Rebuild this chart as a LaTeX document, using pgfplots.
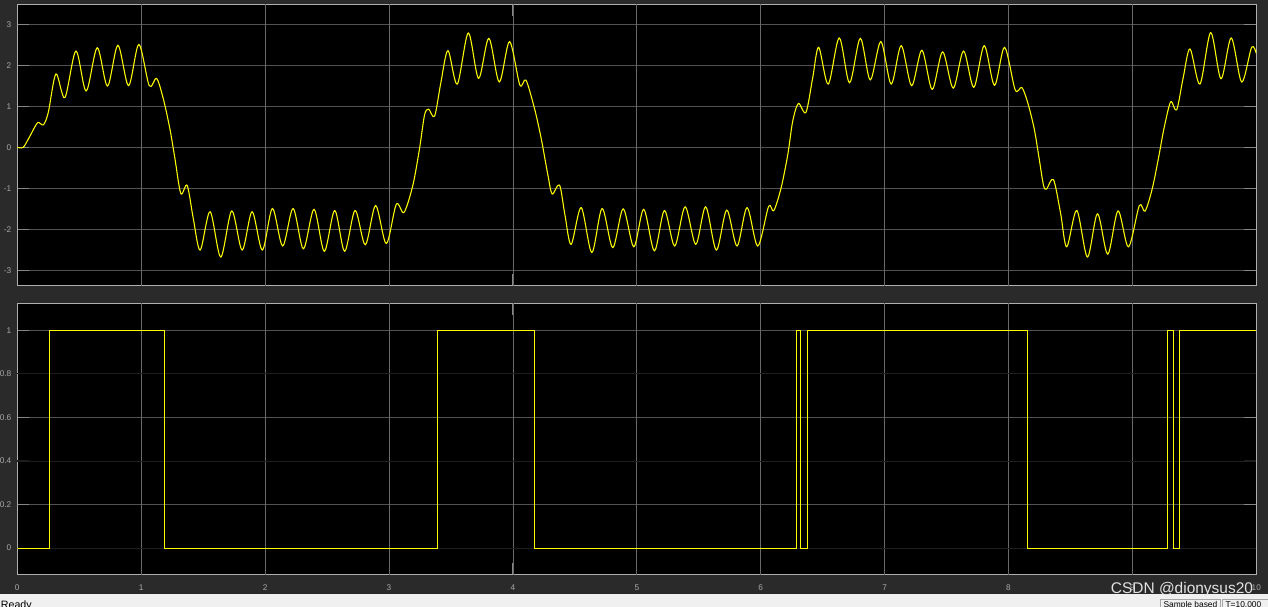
\documentclass[border=0pt]{standalone}
\usepackage{fontspec}
\setmainfont{Liberation Sans}
\usepackage{pgfplots}
\pgfplotsset{compat=1.18}
\definecolor{figbg}{RGB}{42,42,42}
\definecolor{hgridc}{RGB}{82,82,82}
\definecolor{vgridc}{RGB}{105,105,105}
\definecolor{darkgridc}{RGB}{30,30,30}
\definecolor{tickc}{RGB}{135,135,135}
\definecolor{borderc}{RGB}{175,175,175}
\definecolor{labc}{RGB}{168,168,168}
\definecolor{sigc}{RGB}{255,255,0}
\definecolor{statusbg}{RGB}{240,240,240}
\pgfplotsset{
  scopeax/.style={
    scale only axis, width=929.25pt,
    xmin=0, xmax=10,
    axis background/.style={fill=black},
    axis line style={draw=borderc, line width=0.6pt},
    ymajorgrids=true, xmajorgrids=false,
    major grid style={hgridc, line width=0.6pt},
    tick style={tickc, line width=0.7pt},
    major tick length=9pt, tick align=inside,
    xtick={0,...,10},
    extra x ticks={1,...,9},
    extra x tick labels={},
    extra x tick style={grid=major, major tick length=0pt, major grid style={vgridc, line width=0.6pt}},
    tick label style={font=\fontsize{6.2}{7}\selectfont, text=labc},
    xticklabel style={yshift=-3.9pt},
    yticklabel style={xshift=-1pt},
    /pgf/number format/assume math mode=true,
  }
}
\begin{document}
\begin{tikzpicture}
\useasboundingbox (0,0) rectangle (951pt,455.25pt);
\fill[figbg] (0,9.5pt) rectangle (951pt,455.25pt);
\fill[statusbg] (0,0) rectangle (951pt,9.5pt);

\begin{axis}[scopeax, at={(12.975pt,452.25pt)}, anchor=north west,
  height=211.275pt, ymin=-3.376, ymax=3.495, ytick={-3,...,3},
  xticklabels={}]
\addplot[sigc, line width=0.8pt, smooth, tension=0.5, line join=round] coordinates {
(0,0) (0.048,0) (0.10,0.26) (0.164,0.60) (0.210,0.545) (0.25,0.85)
(0.312,1.79) (0.384,1.21) (0.473,2.35) (0.556,1.37) (0.645,2.43)
(0.728,1.49) (0.812,2.49) (0.898,1.50) (0.981,2.51) (1.065,1.50)
(1.124,1.68) (1.177,1.20) (1.231,0.46) (1.272,-0.27) (1.320,-1.13)
(1.371,-0.93) (1.42,-1.73) (1.476,-2.51) (1.556,-1.57) (1.642,-2.68)
(1.731,-1.55) (1.815,-2.51) (1.895,-1.57) (1.978,-2.51) (2.059,-1.49)
(2.142,-2.41) (2.226,-1.49) (2.309,-2.48) (2.395,-1.51) (2.478,-2.54)
(2.562,-1.54) (2.642,-2.54) (2.726,-1.54) (2.809,-2.38) (2.892,-1.42)
(2.978,-2.35) (3.059,-1.39) (3.121,-1.59) (3.193,-0.92) (3.247,-0.02)
(3.287,0.79) (3.320,0.93) (3.368,0.76) (3.42,1.60) (3.476,2.36)
(3.551,1.54) (3.640,2.79) (3.723,1.68) (3.806,2.66) (3.890,1.59)
(3.973,2.58) (4.056,1.52) (4.105,1.64) (4.174,0.95) (4.228,0.22)
(4.282,-0.67) (4.317,-1.14) (4.376,-0.92) (4.42,-1.65) (4.470,-2.37)
(4.551,-1.47) (4.637,-2.57) (4.720,-1.49) (4.806,-2.45) (4.890,-1.50)
(4.976,-2.43) (5.056,-1.51) (5.142,-2.53) (5.223,-1.54) (5.306,-2.41)
(5.390,-1.45) (5.476,-2.37) (5.556,-1.45) (5.642,-2.51) (5.726,-1.53)
(5.809,-2.41) (5.890,-1.47) (5.976,-2.41) (6.064,-1.44) (6.105,-1.55)
(6.164,-1.00) (6.218,-0.19) (6.258,0.63) (6.304,1.07) (6.365,0.85)
(6.42,1.70) (6.468,2.44) (6.545,1.54) (6.634,2.67) (6.717,1.57)
(6.804,2.66) (6.884,1.64) (6.970,2.58) (7.053,1.54) (7.134,2.48)
(7.218,1.50) (7.301,2.37) (7.384,1.41) (7.468,2.33) (7.554,1.44)
(7.637,2.35) (7.720,1.46) (7.804,2.48) (7.887,1.51) (7.968,2.44)
(8.054,1.40) (8.107,1.46) (8.153,1.11) (8.207,0.46) (8.247,-0.27)
(8.282,-0.92) (8.306,-1.02) (8.363,-0.79) (8.42,-1.60) (8.470,-2.43)
(8.551,-1.54) (8.637,-2.68) (8.718,-1.62) (8.801,-2.61) (8.884,-1.55)
(8.968,-2.43) (9.056,-1.42) (9.102,-1.56) (9.161,-1.00) (9.215,-0.19)
(9.255,0.46) (9.309,1.11) (9.357,0.91) (9.41,1.70) (9.465,2.40)
(9.545,1.54) (9.632,2.80) (9.715,1.67) (9.798,2.67) (9.882,1.59)
(9.962,2.44) (10,2.29)
};
\end{axis}

\begin{axis}[scopeax, at={(12.975pt,227.775pt)}, anchor=north west,
  height=203.55pt, ymin=-0.1226, ymax=1.124,
  ytick={0.2,0.6,1},
  extra y ticks={0,0.4,0.8},
  extra y tick style={grid=major, major grid style={darkgridc, line width=0.6pt}, tick style={darkgridc}}]
\addplot[sigc, line width=0.75pt, line join=miter] coordinates {
(0,0) (0.257,0) (0.257,1) (1.190,1) (1.190,0) (3.395,0) (3.395,1)
(4.175,1) (4.175,0) (6.29,0) (6.29,1) (6.32,1) (6.32,0) (6.38,0) (6.38,1)
(8.15,1) (8.15,0) (9.28,0) (9.28,1) (9.33,1) (9.33,0) (9.38,0) (9.38,1) (10,1)
};
\end{axis}

\node[anchor=base west, text=white!78!gray, font=\fontsize{11.6}{13}\selectfont, inner sep=0pt] at (833pt,9.75pt) {CSDN @dionysus20};
\node[anchor=base west, text=black, font=\fontsize{8}{9}\selectfont, inner sep=0pt] at (0.5pt,-1.4pt) {Ready};
\draw[gray!70, line width=0.5pt, fill=statusbg] (870pt,5.5pt) rectangle (915pt,-2pt);
\draw[gray!70, line width=0.5pt, fill=statusbg] (916.5pt,5.5pt) rectangle (955pt,-2pt);
\node[anchor=base west, text=black, font=\fontsize{6.3}{7}\selectfont, inner sep=0pt] at (872.5pt,-0.6pt) {Sample based};
\node[anchor=base west, text=black, font=\fontsize{6.3}{7}\selectfont, inner sep=0pt] at (919pt,-0.6pt) {T=10.000};
\end{tikzpicture}
\end{document}
